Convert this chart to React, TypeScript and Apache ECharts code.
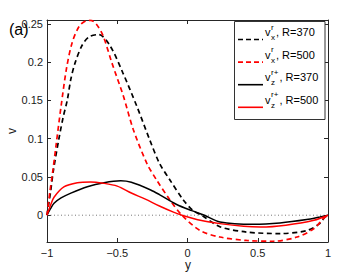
import React, { useEffect, useRef } from "react";
import * as echarts from "echarts";

const FONT = "Liberation Sans, Arial, Helvetica, sans-serif";

// x-axis ticks
const xTicks = [-1, -0.5, 0, 0.5, 1];
// y-axis ticks
const yTicks = [0, 0.05, 0.1, 0.15, 0.2, 0.25];

// v_x^r, R=370 (black dashed)
const vxR370X = [-1, -0.975, -0.955, -0.915, -0.885, -0.856, -0.83, -0.8, -0.75, -0.7, -0.63, -0.55, -0.46, -0.36, -0.27, -0.2, -0.125, -0.03, 0.04, 0.1, 0.23, 0.42, 0.66, 0.85, 0.94, 0.98, 1];
const vxR370V = [0, 0.03, 0.058, 0.1, 0.128, 0.15, 0.178, 0.199, 0.222, 0.233, 0.236, 0.221, 0.186, 0.142, 0.099, 0.068, 0.046, 0.02, 0.006, 0, -0.015, -0.022, -0.024, -0.02, -0.011, -0.002, 0];

// v_x^r, R=500 (red dashed)
const vxR500X = [-1, -0.98, -0.96, -0.935, -0.9, -0.86, -0.82, -0.77, -0.72, -0.69, -0.65, -0.6, -0.54, -0.457, -0.386, -0.29, -0.22, -0.125, -0.04, 0.09, 0.23, 0.42, 0.61, 0.78, 0.9, 0.967, 1];
const vxR500V = [0, 0.03, 0.056, 0.092, 0.142, 0.193, 0.226, 0.247, 0.254, 0.2545, 0.25, 0.234, 0.2, 0.156, 0.112, 0.068, 0.046, 0.02, 0, -0.02, -0.0285, -0.033, -0.034, -0.0285, -0.0175, -0.0044, 0];

// v_z^{r+}, R=370 (black solid)
const vzR370X = [-1, -0.975, -0.95, -0.9, -0.83, -0.713, -0.594, -0.475, -0.4, -0.262, -0.2, -0.077, 0.03, 0.12, 0.231, 0.47, 0.658, 0.848, 0.943, 1];
const vzR370V = [0, 0.0085, 0.0155, 0.0225, 0.0288, 0.0372, 0.0425, 0.045, 0.043, 0.033, 0.027, 0.014, 0.006, 0, -0.0088, -0.0118, -0.0101, -0.0057, -0.0022, 0];

// v_z^{r+}, R=500 (red solid)
const vzR500X = [-1, -0.975, -0.95, -0.88, -0.784, -0.69, -0.6, -0.5, -0.4, -0.3, -0.2, -0.1, -0.04, 0.1, 0.23, 0.4, 0.52, 0.7, 0.9, 1];
const vzR500V = [0, 0.013, 0.0235, 0.037, 0.0425, 0.0435, 0.0418, 0.038, 0.029, 0.021, 0.012, 0.004, 0, -0.007, -0.011, -0.0145, -0.0154, -0.013, -0.0066, 0];

// zero reference line
const zeroX = [-1, 1];
const zeroV = [0, 0];

const zip = (xs: number[], vs: number[]) => xs.map((x, i) => [x, vs[i]]);

const legendRows = [
  { color: "#000000", dashed: true, sup: "r", sub: "x", label: ", R=370" },
  { color: "#ff0000", dashed: true, sup: "r", sub: "x", label: ", R=500" },
  { color: "#000000", dashed: false, sup: "r+", sub: "z", label: ", R=370" },
  { color: "#ff0000", dashed: false, sup: "r+", sub: "z", label: ", R=500" },
];

const fmt = (v: number) => {
  const s = String(Math.round(v * 1000) / 1000);
  return s.replace("-", "\u2212");
};

export default function App() {
  const ref = useRef<HTMLDivElement>(null);
  useEffect(() => {
    if (!ref.current) return;
    const chart = echarts.init(ref.current, undefined, { renderer: "svg" });

    const axisColor = "#262626";
    const labelStyle = { color: "#1a1a1a", fontSize: 11, fontFamily: FONT };

    const graphics: any[] = [];
    graphics.push({
      type: "text",
      left: 9,
      top: 21,
      style: { text: "(a)", fontSize: 16, fontFamily: FONT, fill: "#000" },
      z: 20,
    });
    graphics.push({
      type: "text",
      x: 12,
      y: 131,
      rotation: Math.PI / 2,
      style: { text: "v", fontSize: 12, fontFamily: FONT, fill: "#1a1a1a", align: "center", verticalAlign: "middle" },
    });
    graphics.push({
      type: "text",
      x: 188,
      y: 265,
      style: { text: "y", fontSize: 12, fontFamily: FONT, fill: "#1a1a1a", align: "center", verticalAlign: "middle" },
    });
    graphics.push({
      type: "rect",
      shape: { x: 234.5, y: 21.5, width: 90.5, height: 98 },
      style: { fill: "#ffffff", stroke: "#333333", lineWidth: 1 },
      z: 10,
    });
    legendRows.forEach((r, i) => {
      const ty = 32 + i * 22.6;
      const ly = ty + 7.5;
      graphics.push({
        type: "line",
        shape: { x1: 238, y1: ly, x2: 263, y2: ly },
        style: { stroke: r.color, lineWidth: 1.6, lineDash: r.dashed ? [5, 3] : null },
        z: 11,
      });
      graphics.push({
        type: "text",
        x: 265,
        y: ty,
        style: { text: "v", fontSize: 11, fontFamily: FONT, fill: "#000", verticalAlign: "middle" },
        z: 11,
      });
      graphics.push({
        type: "text",
        x: 271,
        y: ty - 5,
        style: { text: r.sup, fontSize: 8, fontFamily: FONT, fill: "#000", verticalAlign: "middle" },
        z: 11,
      });
      graphics.push({
        type: "text",
        x: 271,
        y: ty + 5.5,
        style: { text: r.sub, fontSize: 8, fontFamily: FONT, fill: "#000", verticalAlign: "middle" },
        z: 11,
      });
      graphics.push({
        type: "text",
        x: r.sup.length > 1 ? 279.5 : 276,
        y: ty,
        style: { text: r.label, fontSize: 11, fontFamily: FONT, fill: "#000", verticalAlign: "middle" },
        z: 11,
      });
    });

    const lineSeries = (name: string, xs: number[], vs: number[], color: string, dashed: boolean) => ({
      name,
      type: "line",
      data: zip(xs, vs),
      smooth: 0.3,
      showSymbol: false,
      symbol: "none",
      clip: true,
      lineStyle: { color, width: dashed ? 1.7 : 1.5, type: dashed ? [5, 3.5] : "solid" },
      z: 3,
    });

    chart.setOption({
      animation: false,
      backgroundColor: "#ffffff",
      grid: { left: 47, top: 20, width: 281, height: 222, containLabel: false, outerBoundsMode: "none" },
      xAxis: [
        {
          type: "value",
          position: "bottom",
          min: -1,
          max: 1,
          interval: 0.5,
          axisLine: { show: true, onZero: false, lineStyle: { color: axisColor, width: 1 } },
          axisTick: { show: true, inside: true, length: 4, lineStyle: { color: axisColor } },
          axisLabel: { ...labelStyle, margin: 5, formatter: (v: number) => fmt(v) },
          splitLine: { show: false },
        },
        {
          type: "value",
          position: "top",
          min: -1,
          max: 1,
          interval: 0.5,
          axisLine: { show: true, onZero: false, lineStyle: { color: axisColor, width: 1 } },
          axisTick: { show: true, inside: true, length: 4, lineStyle: { color: axisColor } },
          axisLabel: { show: false },
          splitLine: { show: false },
        },
      ],
      yAxis: [
        {
          type: "value",
          position: "left",
          min: -0.035,
          max: 0.255,
          axisLine: { show: true, onZero: false, lineStyle: { color: axisColor, width: 1 } },
          axisTick: { show: true, inside: true, length: 4, customValues: yTicks, lineStyle: { color: axisColor } },
          axisLabel: { ...labelStyle, margin: 4, customValues: yTicks, formatter: (v: number) => fmt(v) },
          splitLine: { show: false },
        },
        {
          type: "value",
          position: "right",
          min: -0.035,
          max: 0.255,
          axisLine: { show: true, onZero: false, lineStyle: { color: axisColor, width: 1 } },
          axisTick: { show: true, inside: true, length: 4, customValues: yTicks, lineStyle: { color: axisColor } },
          axisLabel: { show: false },
          splitLine: { show: false },
        },
      ],
      series: [
        {
          name: "zero",
          type: "line",
          data: zip(zeroX, zeroV),
          showSymbol: false,
          symbol: "none",
          lineStyle: { color: "#777777", width: 1, type: [1, 2.5] },
          z: 2,
        },
        lineSeries("vx R=370", vxR370X, vxR370V, "#000000", true),
        lineSeries("vx R=500", vxR500X, vxR500V, "#ff0000", true),
        lineSeries("vz R=370", vzR370X, vzR370V, "#000000", false),
        lineSeries("vz R=500", vzR500X, vzR500V, "#ff0000", false),
      ],
      graphic: graphics,
    });
    return () => chart.dispose();
  }, []);
  return (
    <div
      ref={ref}
      style={{ position: "absolute", left: 0, top: 0, width: 362, height: 273 }}
    />
  );
}
